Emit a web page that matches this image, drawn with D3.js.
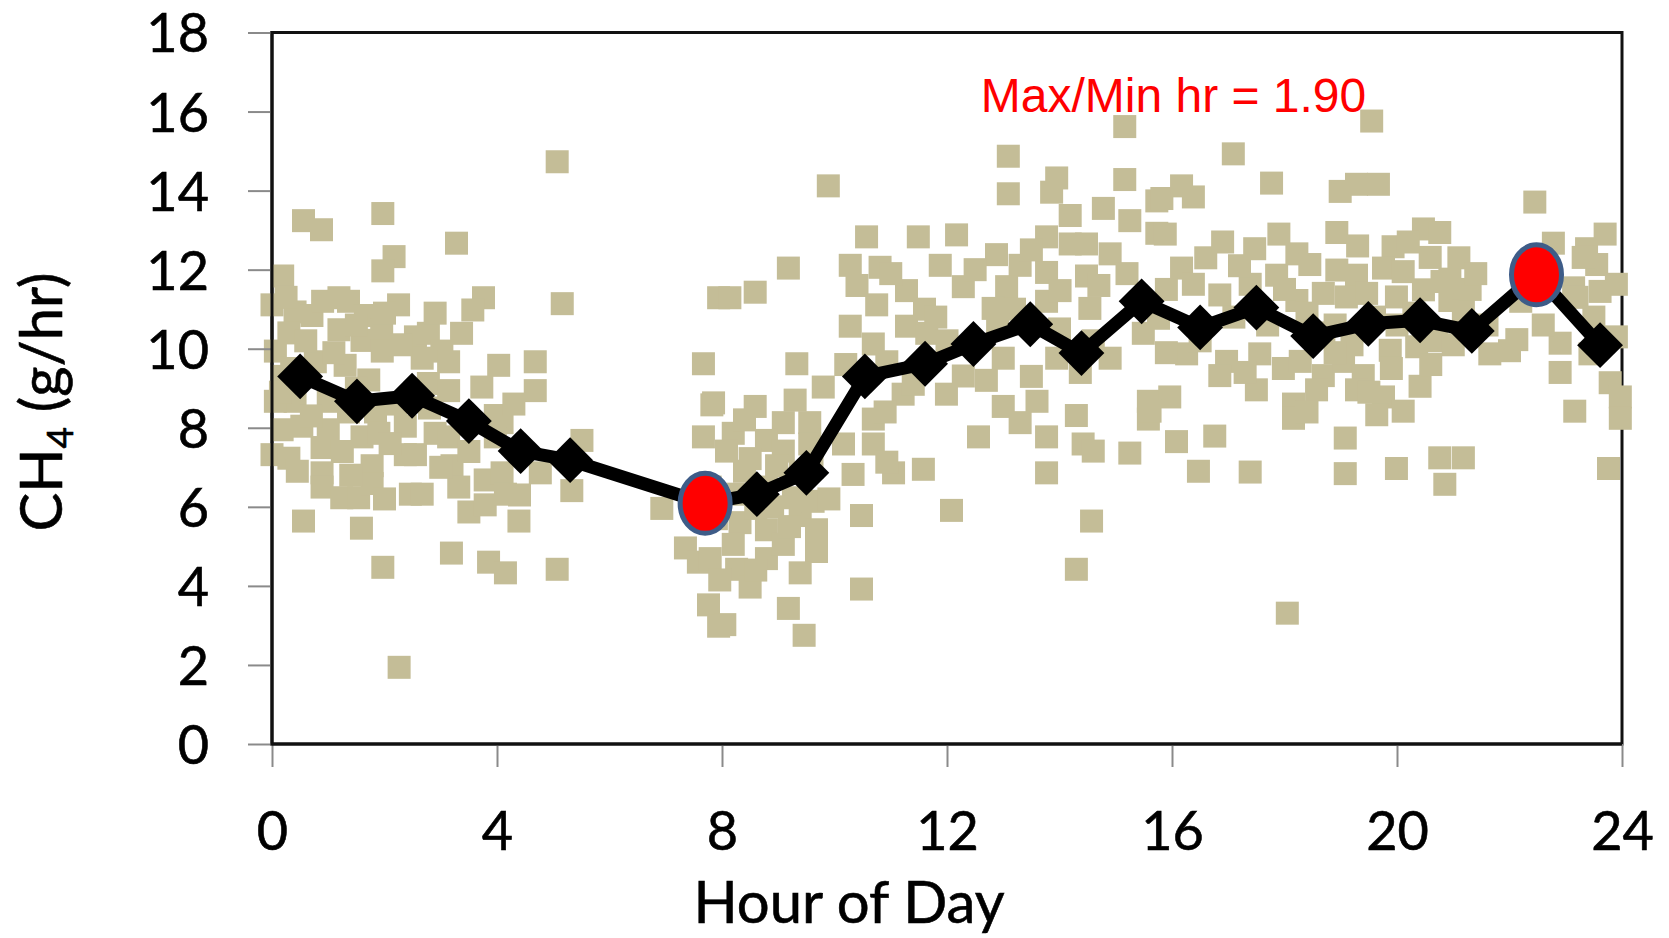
<!DOCTYPE html>
<html>
<head>
<meta charset="utf-8">
<script src="https://cdn.jsdelivr.net/npm/d3@7"></script>
<style>
  body { margin: 0; background: #fff; }
</style>
</head>
<body>
<div id="container"></div>
<script>
/* CONSTANTS AND GLOBALS */
const width = 1669,
  height = 938,
  margin = { top: 32.5, right: 47, bottom: 194, left: 272 };

/* DATA */
// individual hourly observations [hour, CH4 g/hr]
const scatterNight = [
  [5.07,14.73],[0.56,13.24],[0.88,13.01],[1.97,13.42],[3.28,12.67],[2.17,12.33],[1.97,11.97],[0.19,11.84],
  [5.16,11.14],[3.76,11.29],[3.57,10.98],[3.37,10.39],[0.0,11.11],[0.41,10.93],[0.71,10.84],[1.19,11.29],
  [1.36,11.2],[1.66,10.84],[2.25,11.11],[1.95,10.48],[1.19,10.48],[1.6,10.21],[1.96,9.94],[2.55,10.3],
  [2.78,10.39],[3.02,9.94],[3.14,9.67],[4.03,9.58],[4.68,9.67],[4.68,8.94],[0.06,9.94],[0.18,9.3],
  [0.77,9.67],[1.3,9.58],[1.72,9.21],[1.0,8.67],[0.41,8.67],[0.06,8.67],[1.36,8.4],[1.84,8.4],
  [2.67,9.76],[2.78,9.12],[3.14,8.94],[3.73,9.03],[4.09,8.13],[3.97,7.77],[0.18,7.95],[0.53,8.04],
  [1.0,7.95],[1.6,7.77],[1.9,7.86],[2.37,8.04],[2.9,7.86],[3.14,7.77],[0.0,7.32],[0.3,7.23],
  [0.89,7.5],[0.89,6.86],[0.89,6.5],[1.24,6.23],[1.54,6.23],[1.78,7.04],[1.78,6.59],[2.37,7.32],
  [2.55,7.32],[2.46,6.32],[2.67,6.32],[3.2,7.04],[3.32,6.5],[3.5,5.87],[3.79,6.68],[3.79,6.05],
  [4.09,6.86],[4.15,6.32],[4.77,6.86],[5.33,6.41],[5.51,7.68],[0.56,5.64],[1.59,5.46],[4.39,5.64],
  [1.97,4.47],[3.19,4.83],[3.85,4.6],[4.15,4.33],[5.07,4.42],[2.26,1.94],[0.3,10.4],[0.6,10.2],
  [0.35,9.5],[0.15,8.9],[3.97,8.31],[4.3,8.6],[0.25,11.3],[0.9,11.2],[1.5,10.6],[2.0,10.9],
  [2.3,10.1],[1.1,9.9],[1.5,9.0],[2.2,8.6],[0.7,8.3],[1.25,7.4],[2.1,7.6],[2.8,8.5],
  [3.4,8.1],[3.0,7.0],[2.0,6.2],[0.45,6.9],[1.4,6.8],[3.5,7.4],[4.4,6.3],[2.9,10.9]
];
const scatterMorning = [
  [6.93,5.96],[7.67,9.62],[7.94,11.29],[7.82,8.58],[7.67,7.77],[7.35,4.96],[7.58,4.6],[7.76,3.52],
  [7.94,2.98],[9.89,14.12],[9.18,12.04],[8.14,11.29],[8.59,11.43],[10.57,12.83],[11.49,12.83],[10.28,12.11],
  [10.81,12.06],[11.28,11.47],[11.88,12.11],[10.75,11.11],[11.28,10.57],[10.28,10.57],[10.69,10.12],[11.64,10.39],
  [10.93,9.67],[9.8,9.03],[9.33,9.62],[11.99,8.85],[11.22,8.85],[7.85,8.63],[8.59,8.54],[9.09,8.13],
  [9.56,8.13],[8.79,7.68],[8.2,7.86],[10.16,7.59],[10.69,7.59],[10.69,8.22],[11.05,6.86],[11.58,6.95],
  [10.33,6.82],[10.93,7.13],[10.48,5.78],[10.48,3.92],[9.18,3.43],[9.46,2.75],[8.05,3.02],[8.32,5.6],
  [8.79,5.42],[9.39,5.78],[9.68,5.42],[9.68,4.87],[9.39,4.33],[8.79,4.69],[8.26,4.42],[7.79,4.69],
  [7.96,4.15],[8.5,3.97],[9.09,5.05],[8.2,5.05],[8.08,7.41],[8.5,7.22],[9.09,7.41],[9.39,6.86],
  [8.79,6.5],[8.2,6.32],[9.27,6.23],[9.62,6.14],[7.79,6.5],[8.6,5.96],[8.97,7.04],[9.56,7.59],
  [8.4,6.9],[8.9,6.0],[9.2,5.5],[8.6,4.4],[9.6,7.0],[9.9,6.2],[7.9,5.7],[8.4,8.2],
  [9.3,8.7],[10.4,11.6],[11.0,11.9],[11.6,11.0],[10.2,9.6],[11.4,9.1],[10.9,8.4],[11.8,10.8]
];
const scatterAfternoon = [
  [12.17,12.88],[12.29,11.57],[12.88,12.38],[13.3,12.11],[13.77,12.83],[14.19,12.65],[14.48,12.65],[14.48,11.84],
  [13.77,11.93],[13.06,11.57],[12.82,11.02],[13.77,11.2],[14.01,11.47],[14.54,11.02],[15.73,12.92],[15.49,10.39],
  [14.9,9.76],[14.37,9.4],[13.95,9.76],[13.0,9.76],[12.29,9.31],[13.09,14.87],[13.09,13.92],[13.95,14.32],
  [13.86,13.96],[15.16,14.28],[15.16,15.62],[14.78,13.55],[15.25,13.24],[15.73,13.74],[14.19,13.37],[12.56,7.77],
  [13.0,8.54],[13.6,8.67],[13.3,8.13],[13.77,7.77],[13.77,6.86],[14.3,8.31],[14.42,7.59],[14.6,7.41],
  [15.25,7.36],[15.58,8.67],[15.58,8.22],[12.08,5.91],[14.57,5.64],[14.3,4.42],[17.09,14.93],[17.77,14.19],
  [15.82,13.8],[16.17,14.12],[16.38,13.84],[15.88,12.9],[17.47,12.53],[16.17,12.04],[16.38,11.63],[16.85,11.36],
  [17.39,11.63],[17.86,11.86],[15.76,10.77],[16.26,9.87],[16.97,9.68],[16.85,9.32],[17.56,9.87],[17.98,9.5],
  [17.5,8.96],[15.96,8.78],[15.61,8.42],[16.08,7.65],[16.76,7.79],[16.47,6.9],[17.39,6.88],[12.0,10.2],
  [12.7,9.2],[12.5,12.0],[13.2,11.0],[13.5,12.5],[14.0,10.5],[14.7,11.6],[14.9,12.4],[12.9,10.6],
  [13.5,9.3],[14.6,10.2],[15.2,11.9],[15.9,11.5],[16.6,12.3],[16.5,10.2],[17.1,10.8],[17.2,12.1],
  [17.7,10.6],[16.9,12.7],[15.9,9.9],[17.3,9.4]
];
const scatterEvening = [
  [19.55,15.76],[18.99,13.98],[19.28,14.16],[19.67,14.16],[22.45,13.71],[18.93,12.94],[18.22,12.4],[20.47,13.03],
  [20.76,12.94],[19.93,12.58],[20.94,11.76],[22.78,12.67],[23.37,12.53],[23.55,12.13],[23.9,11.63],[23.61,11.45],
  [23.14,11.54],[18.45,12.13],[18.93,11.99],[19.28,11.86],[19.76,12.04],[20.11,11.95],[20.59,12.31],[18.22,11.22],
  [18.69,11.4],[19.1,11.31],[19.46,11.4],[19.99,11.31],[20.47,11.49],[20.94,11.22],[21.18,10.95],[18.28,9.68],
  [18.69,9.32],[19.05,9.68],[19.4,9.32],[19.88,9.96],[20.35,10.05],[20.41,9.05],[19.76,8.78],[20.11,8.42],
  [19.64,8.33],[19.28,8.96],[18.57,8.96],[18.16,8.6],[18.16,8.24],[21.65,9.87],[22.13,10.23],[22.9,10.14],
  [23.43,9.87],[23.79,9.14],[23.97,8.78],[23.97,8.24],[23.16,8.42],[19.08,7.74],[19.08,6.84],[19.99,6.97],
  [20.76,7.24],[21.18,7.24],[20.85,6.57],[23.76,6.97],[18.05,3.31],[21.1,12.3],[21.3,11.5],[21.6,10.6],
  [22.0,9.95],[23.2,11.3],[23.31,12.31],[18.7,10.4],[19.2,10.1],[20.0,10.6],[20.7,10.2],[18.0,11.5],
  [18.4,10.9],[18.9,10.6],[19.3,12.6],[19.6,10.8],[20.2,12.7],[20.3,10.9],[20.8,11.7],[21.0,10.1],
  [19.9,9.5],[18.9,9.9],[17.9,12.9],[20.6,9.6],[21.4,11.9],[18.4,8.4],[19.5,8.9],[22.2,11.2],
  [22.6,10.6],[23.5,10.8],[23.9,10.3],[22.9,9.4],[23.7,12.9]
];

// hourly means
const meanHour = [0.50,1.51,2.49,3.50,4.42,5.30,7.70,8.62,9.50,10.54,11.61,12.47,13.48,14.39,15.46,16.50,17.50,18.51,19.49,20.41,21.33,22.48,23.61];
const meanCH4  = [9.30,8.67,8.81,8.17,7.41,7.18,6.09,6.32,6.86,9.30,9.62,10.12,10.62,9.89,11.20,10.54,11.04,10.32,10.63,10.72,10.45,11.87,10.09];

const xTicks = [0, 4, 8, 12, 16, 20, 24];
const yTicks = [0, 2, 4, 6, 8, 10, 12, 14, 16, 18];
const annotation = { hour: 12.6, value: 16.0, text: "Max/Min hr = 1.90" };

const scatter = [].concat(scatterNight, scatterMorning, scatterAfternoon, scatterEvening);
const means = meanHour.map((h, i) => ({ hour: h, ch4: meanCH4[i] }));

const svg = d3.select("#container")
  .append("svg")
  .attr("width", width)
  .attr("height", height)
  .style("background-color", "white");

/* SCALES */
const xScale = d3.scaleLinear()
  .domain([0, 24])
  .range([margin.left, width - margin.right]);

const yScale = d3.scaleLinear()
  .domain([0, 18])
  .range([height - margin.bottom, margin.top]);

const fontFamily = "Lato, 'Open Sans', sans-serif";

// plot area border (top / right sit under the data like in Excel)
svg.append("rect")
  .attr("x", xScale(0))
  .attr("y", yScale(18))
  .attr("width", xScale(24) - xScale(0))
  .attr("height", yScale(0) - yScale(18))
  .attr("fill", "none")
  .attr("stroke", "#111")
  .attr("stroke-width", 3);

/* SCATTER */
const sq = 23;
svg.selectAll(".obs")
  .data(scatter)
  .join("rect")
  .attr("class", "obs")
  .attr("x", d => xScale(d[0]) - sq / 2)
  .attr("y", d => yScale(d[1]) - sq / 2)
  .attr("width", sq)
  .attr("height", sq)
  .attr("fill", "#C4BD97");

/* AXES */
const xAxis = d3.axisBottom(xScale)
  .tickValues(xTicks)
  .tickSize(23);

svg.append("g")
  .attr("transform", `translate(0, ${yScale(0)})`)
  .call(xAxis)
  .attr("font-family", fontFamily)
  .attr("font-size", 54)
  .call(g => g.select(".domain").remove())
  .call(g => g.selectAll(".tick line").attr("stroke", "#8a8a8a").attr("stroke-width", 2))
  .call(g => g.selectAll(".tick text").attr("y", 106).attr("dy", 0)
    .attr("fill", "#000").attr("stroke", "#000").attr("stroke-width", 0.6));

const yAxis = d3.axisLeft(yScale)
  .tickValues(yTicks)
  .tickSize(24);

svg.append("g")
  .attr("transform", `translate(${xScale(0)}, 0)`)
  .call(yAxis)
  .attr("font-family", fontFamily)
  .attr("font-size", 54)
  .call(g => g.select(".domain").remove())
  .call(g => g.selectAll(".tick line").attr("stroke", "#8a8a8a").attr("stroke-width", 2))
  .call(g => g.selectAll(".tick text").attr("x", -63).attr("dy", "0.36em")
    .attr("fill", "#000").attr("stroke", "#000").attr("stroke-width", 0.6));

// axis lines on top
svg.append("line")
  .attr("x1", xScale(0)).attr("x2", xScale(0))
  .attr("y1", yScale(18) - 1.5).attr("y2", yScale(0) + 1.5)
  .attr("stroke", "#111").attr("stroke-width", 3);
svg.append("line")
  .attr("x1", xScale(0)).attr("x2", xScale(24))
  .attr("y1", yScale(0)).attr("y2", yScale(0))
  .attr("stroke", "#111").attr("stroke-width", 3);

/* MEAN LINE */
const line = d3.line()
  .x(d => xScale(d.hour))
  .y(d => yScale(d.ch4));

svg.append("path")
  .datum(means)
  .attr("d", line)
  .attr("fill", "none")
  .attr("stroke", "#000")
  .attr("stroke-width", 13)
  .attr("stroke-linejoin", "round");

const diamond = d3.symbol().type(d3.symbolSquare).size(1050);
svg.selectAll(".mean")
  .data(means)
  .join("path")
  .attr("class", "mean")
  .attr("d", diamond)
  .attr("transform", d => `translate(${xScale(d.hour)}, ${yScale(d.ch4)}) rotate(45)`)
  .attr("fill", "#000");

// max and min hour markers
const iMin = d3.minIndex(means, d => d.ch4),
  iMax = d3.maxIndex(means, d => d.ch4);

svg.selectAll(".extreme")
  .data([means[iMin], means[iMax]])
  .join("ellipse")
  .attr("class", "extreme")
  .attr("cx", d => xScale(d.hour))
  .attr("cy", d => yScale(d.ch4))
  .attr("rx", 25)
  .attr("ry", 30)
  .attr("fill", "#FF0000")
  .attr("stroke", "#3E5C88")
  .attr("stroke-width", 5);

/* TEXT */
svg.append("text")
  .attr("x", xScale(annotation.hour))
  .attr("y", yScale(annotation.value))
  .attr("font-family", "'Liberation Sans', Arial, sans-serif")
  .attr("font-size", 48)
  .attr("fill", "#FF0000")
  .text(annotation.text);

svg.append("text")
  .attr("x", 849)
  .attr("y", 923)
  .attr("text-anchor", "middle")
  .attr("font-family", fontFamily)
  .attr("font-size", 58)
  .attr("fill", "#000")
  .attr("stroke", "#000")
  .attr("stroke-width", 0.6)
  .text("Hour of Day");

const yTitle = svg.append("text")
  .attr("transform", "translate(62, 402) rotate(-90)")
  .attr("text-anchor", "middle")
  .attr("font-family", fontFamily)
  .attr("font-size", 58)
  .attr("fill", "#000")
  .attr("stroke", "#000")
  .attr("stroke-width", 0.6);
yTitle.append("tspan").text("CH");
yTitle.append("tspan").attr("font-size", 37).attr("dy", 11).text("4");
yTitle.append("tspan").attr("dy", -11).text(" (g/hr)");
</script>
</body>
</html>
